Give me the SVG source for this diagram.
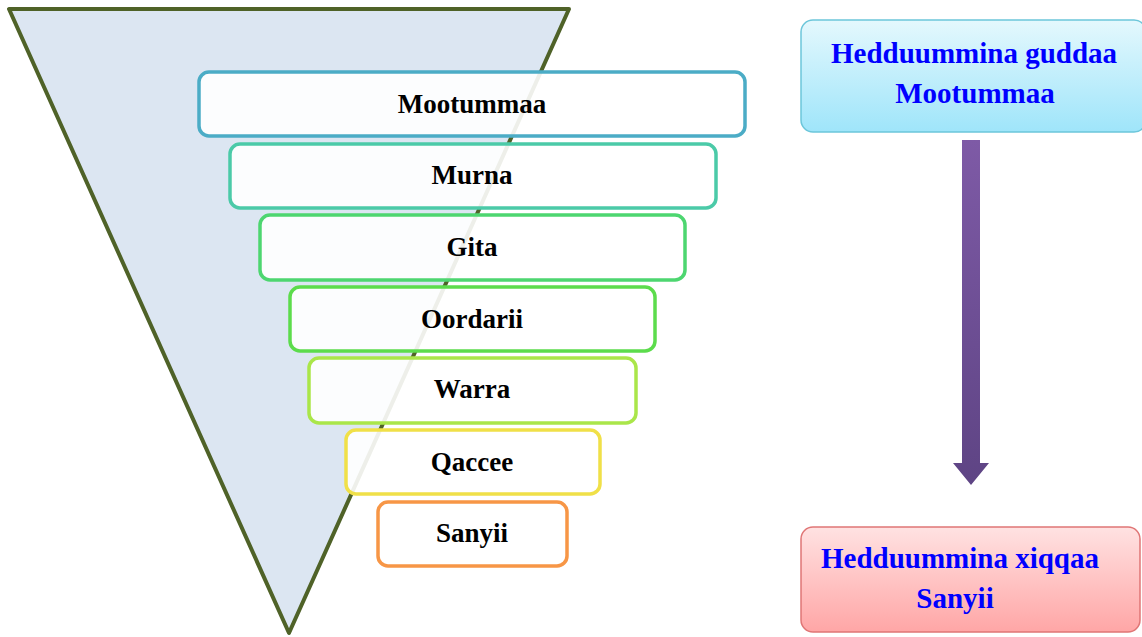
<svg xmlns="http://www.w3.org/2000/svg" width="1142" height="637" viewBox="0 0 1142 637">
<style>
.lvl{fill:#ffffff;fill-opacity:0.9;stroke-width:3.5}
.lt{font-family:"Liberation Serif","Times New Roman",serif;font-weight:bold;font-size:27px;fill:#000;text-anchor:middle}
.bt{font-family:"Liberation Serif","Times New Roman",serif;font-weight:bold;font-size:29px;fill:#0000ff;text-anchor:middle}
</style>
<defs>
<linearGradient id="gTop" x1="0" y1="0" x2="0" y2="1">
<stop offset="0" stop-color="#e4f8fd"/><stop offset="1" stop-color="#9fe5fa"/>
</linearGradient>
<linearGradient id="gBot" x1="0" y1="0" x2="0" y2="1">
<stop offset="0" stop-color="#ffe2e2"/><stop offset="1" stop-color="#ffa6a6"/>
</linearGradient>
<linearGradient id="gArr" x1="0" y1="0" x2="0" y2="1">
<stop offset="0" stop-color="#7e5aa6"/><stop offset="1" stop-color="#5e4484"/>
</linearGradient>
</defs>
<rect width="1142" height="637" fill="#ffffff"/>
<g id="funnel">
<polygon points="9,9 569,9 289,633" fill="#dce6f2" stroke="#4f6228" stroke-width="4" stroke-linejoin="round"/>
</g>
<g id="level-mootummaa">
<rect class="lvl" x="199" y="72" width="546" height="64" rx="10" stroke="#4bacc6"/>
<text class="lt" x="472" y="113">Mootummaa</text>
</g>
<g id="level-murna">
<rect class="lvl" x="230" y="144" width="486" height="64" rx="10" stroke="#4bcaa8"/>
<text class="lt" x="472" y="184">Murna</text>
</g>
<g id="level-gita">
<rect class="lvl" x="260" y="215" width="425" height="65" rx="10" stroke="#4dd670"/>
<text class="lt" x="472" y="256">Gita</text>
</g>
<g id="level-oordarii">
<rect class="lvl" x="290" y="287" width="365" height="64" rx="10" stroke="#5cdc4c"/>
<text class="lt" x="472" y="328">Oordarii</text>
</g>
<g id="level-warra">
<rect class="lvl" x="309" y="358" width="327" height="65" rx="10" stroke="#aae64a"/>
<text class="lt" x="472" y="398">Warra</text>
</g>
<g id="level-qaccee">
<rect class="lvl" x="346" y="430" width="254" height="64" rx="10" stroke="#f0e048"/>
<text class="lt" x="472" y="471">Qaccee</text>
</g>
<g id="level-sanyii">
<rect class="lvl" x="378" y="502" width="189" height="64" rx="10" stroke="#f79646"/>
<text class="lt" x="472" y="542">Sanyii</text>
</g>
<g id="box-top">
<rect x="801" y="20" width="345" height="112" rx="12" fill="url(#gTop)" stroke="#6cc6da" stroke-width="1.5"/>
<text class="bt" x="974" y="63">Hedduummina guddaa</text>
<text class="bt" x="975" y="103">Mootummaa</text>
</g>
<g id="box-bottom">
<rect x="801" y="527" width="339" height="105" rx="12" fill="url(#gBot)" stroke="#e07676" stroke-width="1.5"/>
<text class="bt" x="960" y="568">Hedduummina xiqqaa</text>
<text class="bt" x="955" y="608">Sanyii</text>
</g>
<g id="connectors">
<polygon points="962,140 980,140 980,463 989,463 971,485 953,463 962,463" fill="url(#gArr)"/>
</g>
</svg>
